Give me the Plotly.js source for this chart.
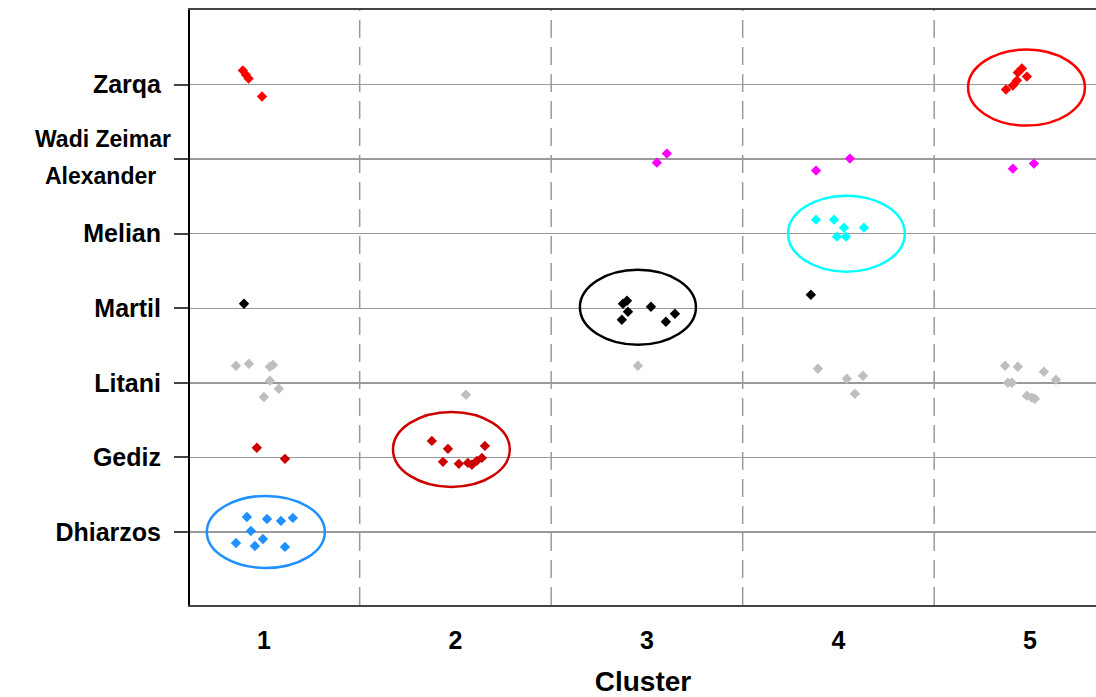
<!DOCTYPE html>
<html>
<head>
<meta charset="utf-8">
<script src="https://cdn.plot.ly/plotly-3.0.1.min.js"></script>
<style>
  html, body { margin: 0; padding: 0; background: #ffffff; }
  #chart { width: 1096px; height: 697px; }
</style>
</head>
<body>
<div id="chart"></div>
<script>
// Site order on the vertical axis (1 = bottom)
const siteLevels = [1, 2, 3, 4, 5, 6, 7];
const siteLabels = ["Dhiarzos", "Gediz", "Litani", "Martil", "Melian", "", "Zarqa"];
const clusterTicks = [1, 2, 3, 4, 5];

// Jittered samples per site: cluster position (x) and site level (y)
const zarqaX = [0.89, 0.906, 0.92, 0.99, 4.875, 4.911, 4.932, 4.937, 4.958, 4.984];
const zarqaY = [7.19, 7.13, 7.08, 6.84, 6.933, 6.987, 7.054, 7.161, 7.215, 7.107];

const wadiAlexX = [3.052, 3.104, 3.883, 4.06, 4.911, 5.021];
const wadiAlexY = [5.953, 6.074, 5.846, 6.007, 5.872, 5.94];

const melianX = [3.883, 3.977, 4.029, 4.133, 3.992, 4.039];
const melianY = [5.188, 5.188, 5.081, 5.081, 4.96, 4.96];

const martilX = [0.896, 2.875, 2.896, 2.901, 2.869, 3.021, 3.099, 3.146, 3.856];
const martilY = [4.06, 4.06, 4.10, 3.953, 3.846, 4.02, 3.819, 3.926, 4.181];

const litaniX = [0.854, 0.922, 1.031, 1.047, 1.031, 1.078, 1.0,
                 2.055, 2.953,
                 3.893, 4.044, 4.128, 4.086,
                 4.87, 4.937, 5.073, 4.885, 4.906, 5.136, 4.984, 5.01, 5.026];
const litaniY = [3.228, 3.255, 3.215, 3.24, 3.027, 2.92, 2.81,
                 2.84, 3.228,
                 3.188, 3.054, 3.094, 2.852,
                 3.228, 3.215, 3.148, 3.0, 3.0, 3.04, 2.826, 2.799, 2.785];

const gedizX = [0.963, 1.11, 1.877, 1.961, 2.154, 1.935, 2.018, 2.065, 2.086, 2.112, 2.138];
const gedizY = [2.128, 1.98, 2.221, 2.114, 2.154, 1.94, 1.913, 1.926, 1.9, 1.953, 1.993];

const dhiarzosX = [0.911, 1.016, 1.089, 1.151, 0.932, 0.854, 0.995, 0.953, 1.11];
const dhiarzosY = [1.201, 1.174, 1.148, 1.188, 1.013, 0.852, 0.906, 0.812, 0.799];

// Cluster ellipses: centre and half-axes in data units
const ellipseCx = [1.01, 1.979, 2.953, 4.042, 4.982];
const ellipseCy = [1.0, 2.107, 4.013, 5.0, 6.96];
const ellipseRx = [0.308, 0.305, 0.303, 0.305, 0.305];
const ellipseRy = [0.483, 0.503, 0.503, 0.51, 0.51];
const ellipseColors = ["#1E90FF", "#CD0000", "#000000", "#00FFFF", "#FF0000"];

const series = [
  { x: zarqaX, y: zarqaY, color: "#FF0000" },
  { x: wadiAlexX, y: wadiAlexY, color: "#FF00FF" },
  { x: melianX, y: melianY, color: "#00FFFF" },
  { x: martilX, y: martilY, color: "#000000" },
  { x: litaniX, y: litaniY, color: "#BEBEBE" },
  { x: gedizX, y: gedizY, color: "#CD0000" },
  { x: dhiarzosX, y: dhiarzosY, color: "#1E90FF" }
];

const traces = series.map(s => ({
  type: "scatter",
  mode: "markers",
  x: s.x,
  y: s.y,
  marker: { symbol: "diamond", size: 8, color: s.color, line: { width: 0 } },
  hoverinfo: "x+y",
  showlegend: false
}));

const shapes = [];
// dashed separators between clusters
[1.5, 2.5, 3.5, 4.5].forEach(v => {
  shapes.push({
    type: "line", xref: "x", yref: "paper", x0: v, x1: v, y0: 0, y1: 1,
    line: { color: "#999999", width: 1.5, dash: "18px,9px" }, layer: "below"
  });
});
// cluster ellipses
ellipseCx.forEach((cx, i) => {
  shapes.push({
    type: "circle", xref: "x", yref: "y",
    x0: cx - ellipseRx[i], x1: cx + ellipseRx[i],
    y0: ellipseCy[i] - ellipseRy[i], y1: ellipseCy[i] + ellipseRy[i],
    line: { color: ellipseColors[i], width: 2.5 }, fillcolor: "rgba(0,0,0,0)"
  });
});

const fam = "Liberation Sans, Arial, sans-serif";
const labelFont = { family: fam, size: 25, color: "#000000", weight: "bold" };
const pairFont = { family: fam, size: 23, color: "#000000", weight: "bold" };

const layout = {
  width: 1096,
  height: 697,
  margin: { l: 190, r: 0, t: 10, b: 92 },
  paper_bgcolor: "#ffffff",
  plot_bgcolor: "#ffffff",
  showlegend: false,
  xaxis: {
    range: [0.614, 5.345],
    tickvals: clusterTicks,
    ticktext: clusterTicks.map(String),
    ticks: "",
    ticklabelstandoff: 12,
    showgrid: false,
    zeroline: false,
    showline: true,
    mirror: true,
    linecolor: "#444444",
    linewidth: 2,
    tickfont: { family: fam, size: 25, color: "#000000", weight: "bold" },
    title: { text: "Cluster", font: { family: fam, size: 28, color: "#000000", weight: "bold" }, standoff: 19 }
  },
  yaxis: {
    range: [0.02, 8.0],
    tickvals: siteLevels,
    ticktext: siteLabels,
    ticks: "outside",
    ticklen: 14,
    tickwidth: 2,
    tickcolor: "#444444",
    ticklabelstandoff: 8,
    showgrid: true,
    gridcolor: "#9a9a9a",
    gridwidth: 1.5,
    zeroline: false,
    showline: true,
    linecolor: "#000000",
    linewidth: 2,
    tickfont: labelFont
  },
  shapes: shapes,
  annotations: [
    { text: "Wadi Zeimar", xref: "paper", yref: "y", x: 0, y: 6.27, xanchor: "right", yanchor: "middle",
      xshift: -17, showarrow: false, font: pairFont },
    { text: "Alexander", xref: "paper", yref: "y", x: 0, y: 5.77, xanchor: "right", yanchor: "middle",
      xshift: -32, showarrow: false, font: pairFont }
  ]
};

Plotly.newPlot("chart", traces, layout, { displayModeBar: false, staticPlot: true });
</script>
</body>
</html>
